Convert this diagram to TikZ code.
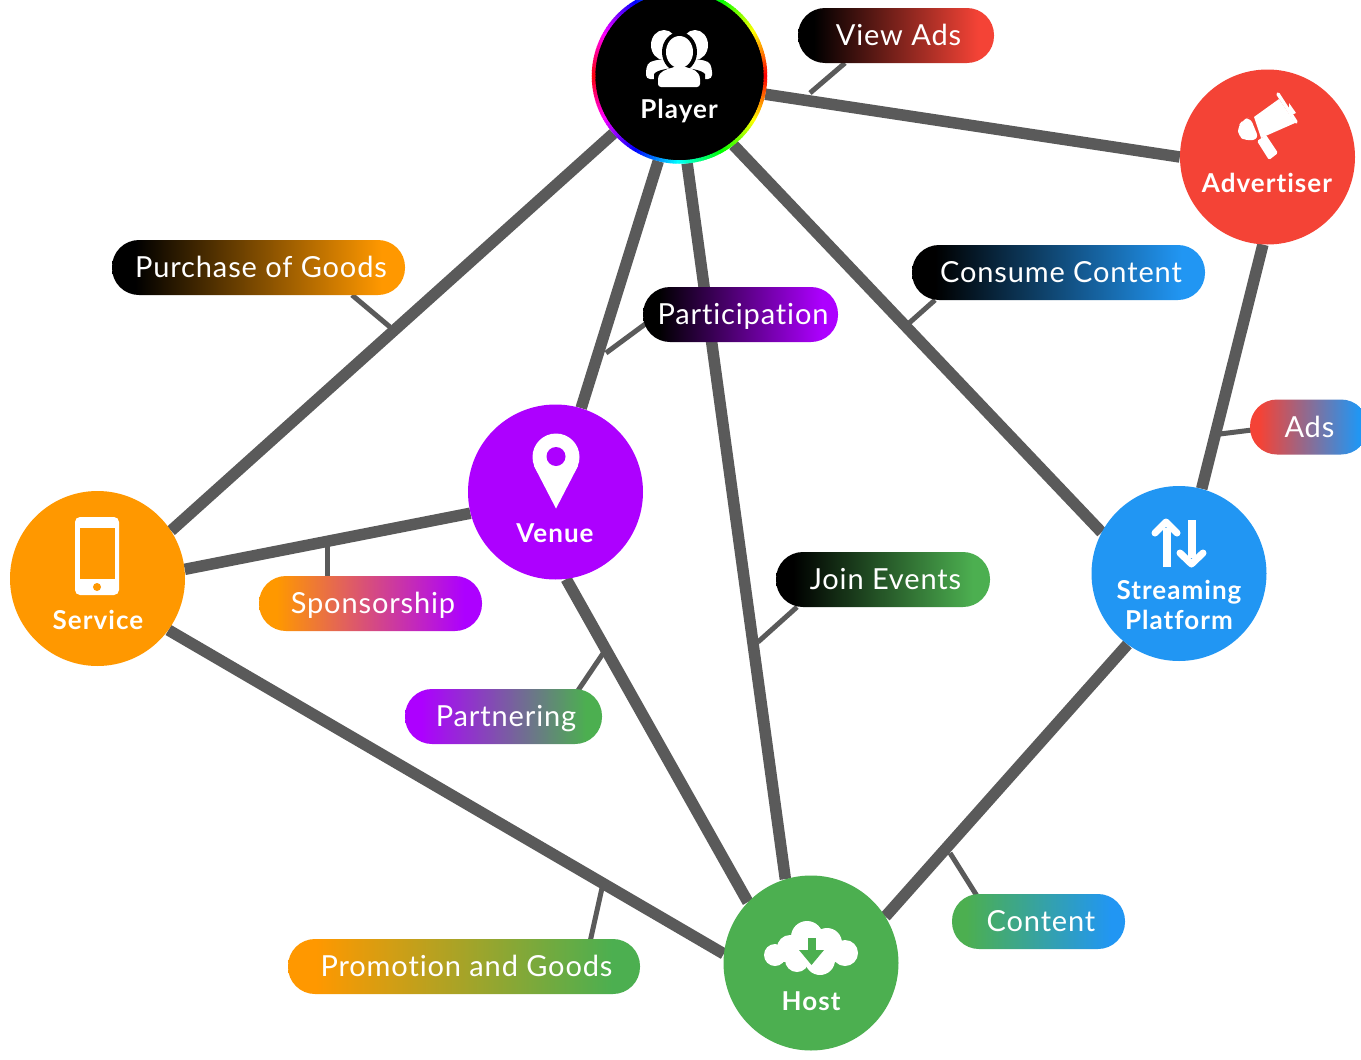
\documentclass[tikz,border=0pt]{standalone}
\usepackage{fontspec}
\setmainfont{Lato}[Ligatures=CommonOff,LetterSpace=3]
\newfontfamily\hubfont{Lato}[Ligatures=CommonOff,LetterSpace=4,BoldFont={Lato Bold}]
\usetikzlibrary{calc}
\definecolor{cOrange}{HTML}{FF9800}
\definecolor{cRed}{HTML}{F44336}
\definecolor{cBlue}{HTML}{2196F3}
\definecolor{cGreen}{HTML}{4CAF50}
\definecolor{cPurple}{HTML}{AD00FF}
\definecolor{cLine}{HTML}{5A5A5A}
\tikzset{
  x=1pt,y=-1pt,
  hub/.style={circle,draw=none,minimum size=175pt,inner sep=0pt},
  hubtext/.style={text=white,font=\hubfont\fontsize{26}{30}\selectfont\bfseries,align=center,inner sep=0pt},
  hubline/.style={hubtext,text height=18pt,text depth=0pt},
  link/.style={draw=cLine,line width=11.5pt},
  leader/.style={draw=cLine,line width=5pt},
  pilltext/.style={inner sep=0pt,text=white,text height=20pt,text depth=0pt,xshift=2.5pt,font=\fontsize{29}{34}\selectfont}
}
\newcommand{\pillnode}[7]{% name, x0, x1, ymid, left, right, text
  \pgfdeclarehorizontalshading{sh#1}{100bp}{color(0bp)=(#5);color(29bp)=(#5);color(71bp)=(#6);color(100bp)=(#6)}
  \path[rounded corners=27pt,shading=sh#1] (#2,#4-27.5) rectangle (#3,#4+27.5);
  \node[pilltext] (#1) at ({(#2+#3)/2},#4) {#7};
}
\begin{document}
\begin{tikzpicture}
\useasboundingbox (0,0) rectangle (1361,1060);
\clip (0,0) rectangle (1361,1060);
\fill[white] (0,0) rectangle (1361,1060);
% hubs (placed first so that connectors can name them)
\node[hub] (player) at (679.5,76) {};
\node[hub] (adv) at (1267.5,157) {};
\node[hub] (stream) at (1179,573.5) {};
\node[hub] (host) at (811,963) {};
\node[hub] (service) at (97.5,578.5) {};
\node[hub] (venue) at (555.5,492) {};
% connectors
\draw[link] (player.-12) -- (adv.180);
\draw[link] (player.221) -- (service.33);
\draw[link] (player.256) -- (venue.73);
\draw[link] (player.275) -- (host.107);
\draw[link] (player.-52) -- (stream.152);
\draw[link] (adv.267) -- (stream.75);
\draw[link] (venue.194) -- (service.6.5);
\draw[link] (venue.-83) -- (host.136);
\draw[link] (service.-36) -- (host.174);
\draw[link] (stream.234) -- (host.32);
% leader ends on the links
\coordinate (cA) at (810,93);
\coordinate (cB) at (390,327);
\coordinate (cC) at (908,324);
\coordinate (cD) at (606,353);
\coordinate (cE) at (1220,434);
\coordinate (cF) at (327,545);
\coordinate (cG) at (758,642);
\coordinate (cH) at (604,652);
\coordinate (cI) at (950,853);
\coordinate (cJ) at (602,888);
% pills
\coordinate (pA) at (845,63);
\coordinate (pB) at (352,295);
\coordinate (pC) at (935,300);
\coordinate (pD) at (648,322);
\coordinate (pE) at (1252,430);
\coordinate (pF) at (327,578);
\coordinate (pG) at (797,607);
\coordinate (pH) at (577,692);
\coordinate (pI) at (977,896);
\coordinate (pJ) at (590,942);
\draw[leader] (pA)--(cA);
\draw[leader] (pB)--(cB);
\draw[leader] (pC)--(cC);
\draw[leader] (pD)--(cD);
\draw[leader] (pE)--(cE);
\draw[leader] (pF)--(cF);
\draw[leader] (pG)--(cG);
\draw[leader] (pH)--(cH);
\draw[leader] (pI)--(cI);
\draw[leader] (pJ)--(cJ);
\pillnode{viewads}{798}{994}{35.5}{black}{cRed}{View Ads}
\pillnode{purchase}{112}{405}{267.5}{black}{cOrange}{Purchase of Goods}
\pillnode{consume}{912}{1205}{272.5}{black}{cBlue}{Consume Content}
\pillnode{particip}{643}{838}{314.5}{black}{cPurple}{Participation}
\pgfdeclarehorizontalshading{shads}{100bp}{color(0bp)=(cRed);color(29bp)=(cRed);color(71bp)=(cBlue);color(100bp)=(cBlue)}
\path[rounded corners=27pt,shading=shads] (1250,399.5) rectangle (1368,454.5);
\node[pilltext] (ads) at (1307,427) {Ads};
\pillnode{sponsor}{259}{482}{603.5}{cOrange}{cPurple}{Sponsorship}
\pillnode{join}{776}{990}{579.5}{black}{cGreen}{Join Events}
\pillnode{partner}{405}{602}{716.5}{cPurple}{cGreen}{Partnering}
\pillnode{content}{952}{1125}{921.5}{cGreen}{cBlue}{Content}
\pillnode{promo}{288}{640}{966.5}{cOrange}{cGreen}{Promotion and Goods}
% hub discs
\fill[black] (player) circle (85);
\foreach \a in {0,2,...,178}{
  \pgfmathsetmacro{\h}{min(\a/180,1)}
  \definecolor{ringc}{hsb}{\h,1,1}
  \pgfmathsetmacro{\b}{\a+2.6}
  \draw[ringc,line width=3.5pt] ($(player)+(\a:86)$) -- ($(player)+(\b:86)$);
  \draw[ringc,line width=3.5pt] ($(player)+(-\a:86)$) -- ($(player)+(-\b:86)$);
}
\fill[cRed] (adv) circle (87.5);
\fill[cBlue] (stream) circle (87.5);
\fill[cGreen] (host) circle (87.5);
\fill[cOrange] (service) circle (87.5);
\fill[cPurple] (venue) circle (87.5);
% player icon
\fill[white] (664,45) ellipse (13 and 15);
\fill[white] (695,45) ellipse (13 and 15);
\fill[white,rounded corners=4pt] (646,79) -- (646,68) .. controls (650,60) and (660,60) .. (668,58) -- (690,58) .. controls (700,60) and (708,60) .. (712,68) -- (712,79) -- cycle;
\fill[black] (679.5,52) ellipse (17.5 and 20);
\fill[black] (654,90) -- (654,74) .. controls (660,66) and (698,66) .. (705,74) -- (705,90) -- cycle;
\fill[white] (679.5,52) ellipse (13.5 and 16);
\fill[white,rounded corners=3pt] (658,87) -- (658,76) .. controls (664,69) and (672,68) .. (675,66) -- (684,66) .. controls (688,68) and (695,69) .. (700,76) -- (700,87) -- cycle;
% advertiser icon
\fill[white] (1254,117) -- (1279,99) -- (1295,123) -- (1261,138) -- cycle;
\draw[white,line width=3.5pt,line cap=round] (1278,94) -- (1296,122);
\fill[white] (1289,103) -- (1296,113) -- (1289,116) -- cycle;
\fill[white,rounded corners=6pt] (1250,117) -- (1259,139) -- (1246,141) -- (1238,136) -- (1238,126) -- (1243,120) -- cycle;
\fill[white,rounded corners=1.5pt] (1257,141) -- (1266,135) -- (1278,153) -- (1269,160) -- cycle;
% host icon
\fill[white] (775,955) circle (11);
\fill[white] (790,948) circle (13);
\fill[white] (807,937) circle (16);
\fill[white] (827,943) circle (15);
\fill[white] (845,953) circle (13);
\fill[white] (820,960) circle (15);
\fill[white] (797,960) circle (12);
\fill[white] (780,945) rectangle (845,962);
\fill[cGreen] (807.5,938) rectangle (816,951);
\fill[cGreen] (799,950) -- (824,950) -- (811.5,965) -- cycle;
% streaming icon
\draw[white,line width=8pt] (1166.5,567) -- (1166.5,528);
\draw[white,line width=7pt,line cap=round,line join=round] (1155,533) -- (1166,522) -- (1177,533);
\draw[white,line width=8pt] (1191.5,520) -- (1191.5,558);
\draw[white,line width=7pt,line cap=round,line join=round] (1180,553) -- (1191.5,564) -- (1203,553);
% service icon
\fill[white,rounded corners=5pt] (75,517) rectangle (119,595);
\fill[cOrange] (79.5,528) rectangle (115,579);
\fill[cOrange] (97,587) circle (4);
% venue icon
\fill[white] (556,457) circle (23.5);
\fill[white] (556,508.5) -- (534,466) -- (578,466) -- cycle;
\fill[cPurple] (556,456.5) circle (9.5);
% hub labels
\node[hubline] (tplayer) at (679,109) {Player};
\node[hubline] (tadv) at (1267,183) {Advertiser};
\node[hubtext,font=\hubfont\fontsize{26}{30.5}\selectfont\bfseries] (tstream) at (1179,605) {Streaming\\Platform};
\node[hubline] (thost) at (811,1001) {Host};
\node[hubline] (tservice) at (98,620) {Service};
\node[hubline] (tvenue) at (555,533) {Venue};
\end{tikzpicture}
\end{document}
